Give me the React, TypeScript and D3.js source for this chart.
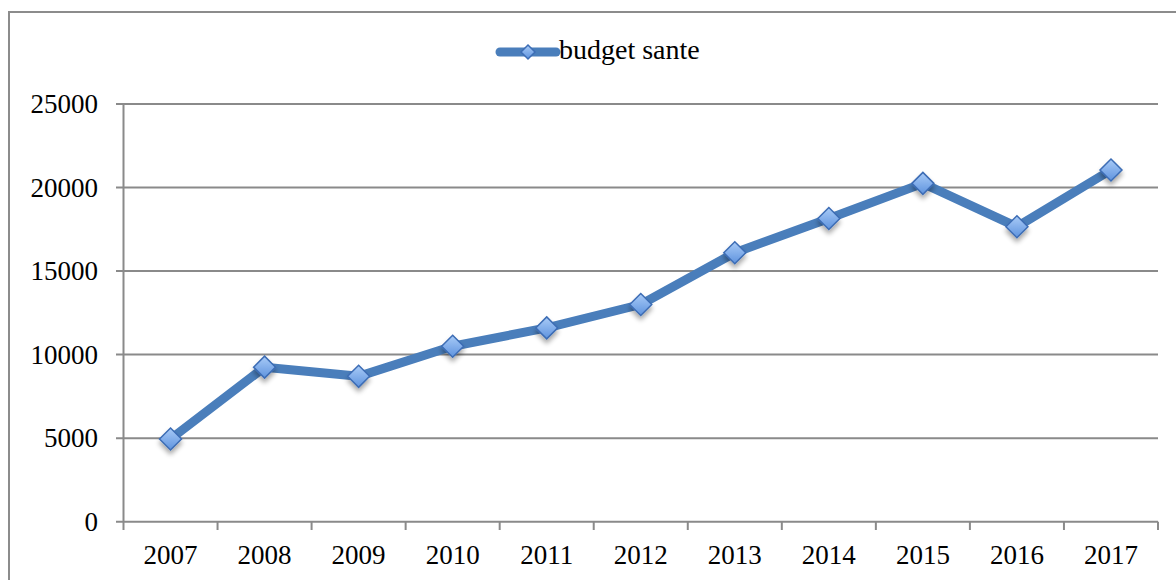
import React from "react";
import * as d3 from "d3";

const years = ["2007","2008","2009","2010","2011","2012","2013","2014","2015","2016","2017"];
const budget = [4950, 9250, 8700, 10500, 11600, 13000, 16100, 18150, 20250, 17650, 21050];
const yTicks = [0, 5000, 10000, 15000, 20000, 25000];
const seriesName = "budget sante";

const W = 1176, H = 580;
const left = 123.5, right = 1158, top = 104, bottom = 521.7;
const FONT = "'Liberation Serif', 'DejaVu Serif', serif";

function Diamond({ cx, cy, r, id }: { cx: number; cy: number; r: number; id: string }) {
  const p = `M${cx},${cy - r} L${cx + r},${cy} L${cx},${cy + r} L${cx - r},${cy} Z`;
  return <path d={p} fill={`url(#${id})`} stroke="#3d6db5" strokeWidth={1.5} />;
}

export default function App() {
  const x = d3.scaleBand<string>().domain(years).range([left, right]);
  const y = d3.scaleLinear().domain([0, 25000]).range([bottom, top]);
  const line = d3.line<number>().x((_, i) => x(years[i])! + x.bandwidth() / 2).y(d => y(d));
  const tickXs = [...years.map(yr => x(yr)!), right];
  return (
    <div style={{ position: "fixed", left: 0, top: 0, width: W, height: H, overflow: "hidden", background: "#fff" }}>
      <svg width={W} height={H} style={{ display: "block" }}>
        <defs>
          <linearGradient id="mk" x1="0" y1="0" x2="0" y2="1">
            <stop offset="0" stopColor="#a9cbf7" />
            <stop offset="1" stopColor="#5e93de" />
          </linearGradient>
          <filter id="sh" x="-50%" y="-50%" width="200%" height="200%">
            <feGaussianBlur in="SourceAlpha" stdDeviation="2.5" />
            <feOffset dx="0" dy="4" result="b" />
            <feComponentTransfer><feFuncA type="linear" slope="0.35" /></feComponentTransfer>
            <feMerge><feMergeNode /><feMergeNode in="SourceGraphic" /></feMerge>
          </filter>
        </defs>
        <rect x={9} y={12} width={W + 10} height={H + 10} fill="none" stroke="#8c8c8c" strokeWidth={2} />
        {yTicks.map(t => (
          <g key={t}>
            <line x1={116} x2={right} y1={y(t)} y2={y(t)} stroke="#8a8a8a" strokeWidth={2} />
            <text x={98} y={y(t) + 9} textAnchor="end" fontFamily={FONT} fontSize={27} fill="#000">{t}</text>
          </g>
        ))}
        <line x1={left} x2={left} y1={top} y2={bottom} stroke="#8a8a8a" strokeWidth={2} />
        {tickXs.map((tx, i) => (
          <line key={i} x1={tx} x2={tx} y1={bottom} y2={530} stroke="#8a8a8a" strokeWidth={2} />
        ))}
        {years.map(yr => (
          <text key={yr} x={x(yr)! + x.bandwidth() / 2} y={564} textAnchor="middle" fontFamily={FONT} fontSize={27} fill="#000">{yr}</text>
        ))}
        <path d={line(budget) || ""} fill="none" stroke="#4a7ebb" strokeWidth={9} strokeLinejoin="round" />
        <g filter="url(#sh)">
          {budget.map((v, i) => (
            <Diamond key={i} cx={x(years[i])! + x.bandwidth() / 2} cy={y(v)} r={11} id="mk" />
          ))}
        </g>
        <line x1={500} x2={556} y1={52} y2={52} stroke="#4a7ebb" strokeWidth={9} strokeLinecap="round" />
        <Diamond cx={528} cy={52} r={7} id="mk" />
        <text x={559} y={59} fontFamily={FONT} fontSize={28} fill="#000">{seriesName}</text>
      </svg>
    </div>
  );
}
